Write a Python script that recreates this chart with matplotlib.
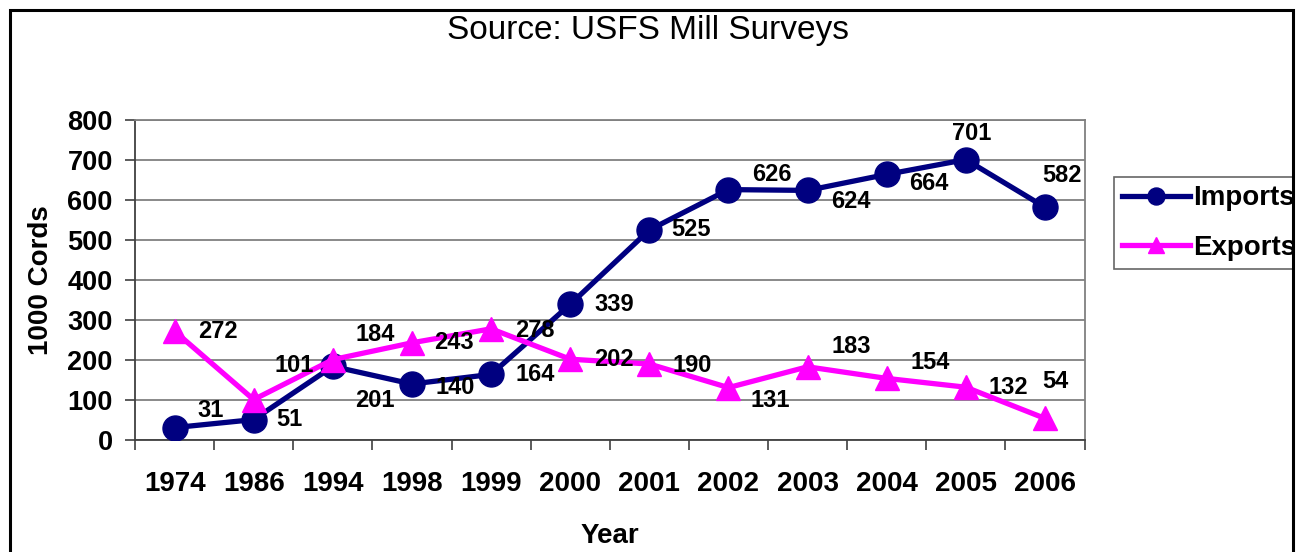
import numpy as np
import matplotlib.pyplot as plt
from matplotlib.patches import Rectangle

plt.rcParams['font.family'] = ['Liberation Sans', 'DejaVu Sans']

years = ['1974', '1986', '1994', '1998', '1999', '2000',
         '2001', '2002', '2003', '2004', '2005', '2006']
imports = [31, 51, 184, 140, 164, 339, 525, 626, 624, 664, 701, 582]
exports = [272, 101, 201, 243, 278, 202, 190, 131, 183, 154, 132, 54]

# label offsets in pixels (right, up) so the numbers don't collide
imp_off = [(36, 17), (36, 0), (42, 32), (43, -3), (44, 0), (44, 0),
           (42, 0), (43, 15), (43, -11), (42, -9), (6, 26), (17, 32)]
exp_off = [(43, 0), (41, 34), (42, -41), (42, 0), (44, -2), (44, 0),
           (43, -2), (42, -13), (44, 20), (44, 16), (43, 0), (10, 37)]

navy = '#000080'
magenta = '#FF00FF'

W, H = 1306, 552
fig = plt.figure(figsize=(W / 100, H / 100), dpi=100)
ax = fig.add_axes([135 / W, 1 - 440 / H, 949.5 / W, 320 / H])

x = np.arange(len(years))
ax.plot(x, imports, color=navy, lw=3.8, marker='o', ms=18,
        label='Imports', zorder=3)
ax.plot(x, exports, color=magenta, lw=3.8, marker='^', ms=17,
        label='Exports', zorder=3)

for xi, v, off in zip(x, imports, imp_off):
    ax.annotate(str(v), (xi, v), xytext=off, textcoords='offset pixels',
                ha='center', va='center', fontsize=17, fontweight='bold',
                zorder=4)
for xi, v, off in zip(x, exports, exp_off):
    ax.annotate(str(v), (xi, v), xytext=off, textcoords='offset pixels',
                ha='center', va='center', fontsize=17, fontweight='bold',
                zorder=4)

ax.set_xlim(-0.5, len(years) - 0.5)
ax.set_ylim(0, 800)
ax.set_yticks(np.arange(0, 801, 100))
ax.grid(axis='y', color='#808080', lw=1.3)
ax.set_axisbelow(True)

# category labels at centres, tick marks between categories
ax.set_xticks(x)
ax.set_xticklabels(years, fontsize=20, fontweight='bold')
ax.set_xticks(np.arange(-0.5, len(years)), minor=True)
ax.tick_params(axis='x', which='major', length=0, pad=22)
ax.tick_params(axis='x', which='minor', length=7, width=1.2,
               color='#404040')
ax.tick_params(axis='y', length=7, width=1.2, color='#404040', pad=9,
               labelsize=19.5)
for lab in ax.get_yticklabels():
    lab.set_fontweight('bold')

for sp in ax.spines.values():
    sp.set_color('#808080')
    sp.set_linewidth(1.3)
ax.spines['left'].set_color('#404040')
ax.spines['bottom'].set_color('#404040')

ax.set_ylabel('1000 Cords', fontsize=20, fontweight='bold', labelpad=10)
ax.set_xlabel('Year', fontsize=20, fontweight='bold', labelpad=19)

fig.text(648 / W, 1 - 31 / H, 'Source: USFS Mill Surveys', fontsize=24,
         ha='center', va='center')

leg = fig.legend(loc='upper left', bbox_to_anchor=(1114 / W, 1 - 177 / H),
                 frameon=True, fancybox=False, edgecolor='#404040',
                 prop={'size': 20, 'weight': 'bold'}, handlelength=2.45,
                 handletextpad=0.1, labelspacing=0.85, borderpad=0.3,
                 borderaxespad=0, markerscale=0.68)
leg.get_frame().set_linewidth(1.2)

# outer black frame around the whole chart; anything right of it is blank
fig.patches.append(Rectangle((1294 / W, 0), 12 / W, 1,
                             transform=fig.transFigure, facecolor='white',
                             edgecolor='none', zorder=9))
fig.patches.append(Rectangle((10 / W, -0.1), 1283 / W, 1.1 - 10 / H,
                             transform=fig.transFigure, fill=False,
                             edgecolor='black', lw=2.2, zorder=10))

fig.savefig('out.png', dpi=100)
